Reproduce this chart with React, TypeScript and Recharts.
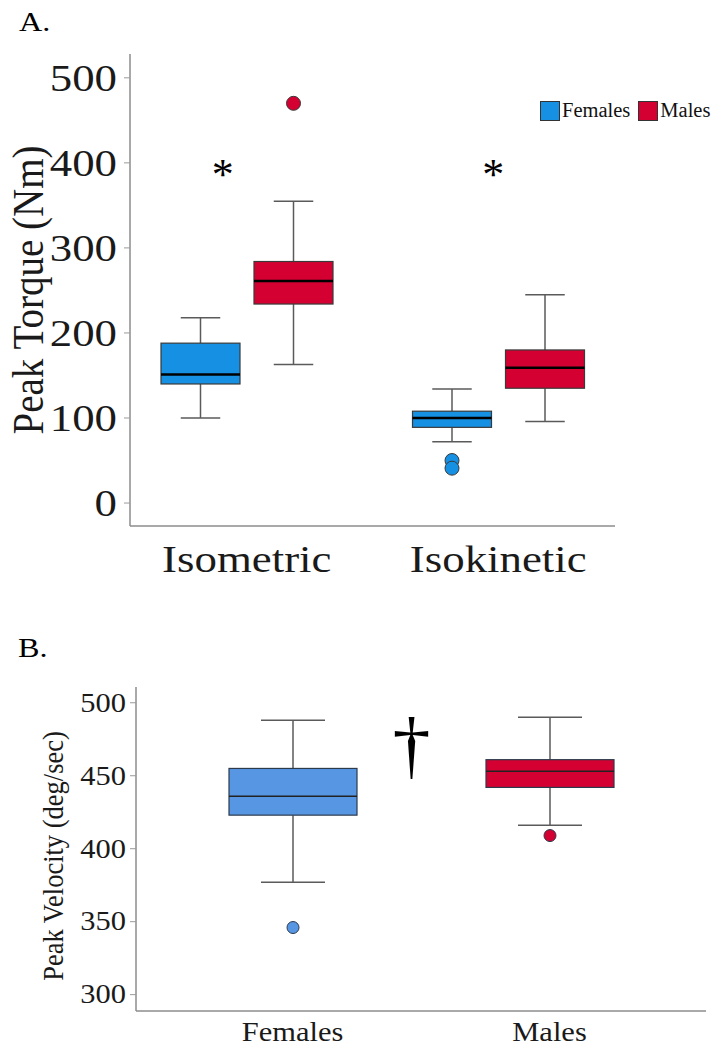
import React from "react";
import { ComposedChart, Bar, XAxis, YAxis, Legend, ReferenceDot } from "recharts";

const FONT = '"Liberation Serif", "Times New Roman", Times, serif';
const STRETCH = 1.15; // the source figure is a bit wide

// Panel A: peak torque (Nm)
const torqueCategories = ["Isometric", "Isokinetic"];
const torqueFemaleMin = [100, 72];
const torqueFemaleQ1 = [140, 89];
const torqueFemaleMedian = [151, 100];
const torqueFemaleQ3 = [188, 108];
const torqueFemaleMax = [218, 134];
const torqueFemaleOutliers = [[], [50, 41]];
const torqueMaleMin = [163, 96];
const torqueMaleQ1 = [234, 135];
const torqueMaleMedian = [261, 159];
const torqueMaleQ3 = [284, 180];
const torqueMaleMax = [355, 245];
const torqueMaleOutliers = [[470], []];
const torqueTicks = [0, 100, 200, 300, 400, 500];
const torqueSigCategories = ["Isometric", "Isokinetic"];
const torqueSigLevel = 394;

// Panel B: peak velocity (deg/sec)
const velocityCategories = ["Females", "Males"];
const velocityMin = [377, 416];
const velocityQ1 = [423, 442];
const velocityMedian = [436, 453];
const velocityQ3 = [455, 461];
const velocityMax = [488, 490];
const velocityOutliers = [[346], [409]];
const velocityTicks = [300, 350, 400, 450, 500];
const velocitySigLevel = 469;

const colors = {
  femaleA: "#1590e3",
  maleA: "#d50032",
  femaleB: "#5796e3",
  maleB: "#d50032",
};

type Stats = { min: number; q1: number; median: number; q3: number; max: number; outliers: number[] };

const stats = (min: number[], q1: number[], med: number[], q3: number[], max: number[], out: number[][], i: number): Stats => ({
  min: min[i],
  q1: q1[i],
  median: med[i],
  q3: q3[i],
  max: max[i],
  outliers: out[i],
});

const extent = (s: Stats) => [Math.min(s.min, ...s.outliers), Math.max(s.max, ...s.outliers)];

const torqueData = torqueCategories.map((category, i) => ({
  category,
  female: stats(torqueFemaleMin, torqueFemaleQ1, torqueFemaleMedian, torqueFemaleQ3, torqueFemaleMax, torqueFemaleOutliers, i),
  male: stats(torqueMaleMin, torqueMaleQ1, torqueMaleMedian, torqueMaleQ3, torqueMaleMax, torqueMaleOutliers, i),
}));

const velocityData = velocityCategories.map((category, i) => ({
  category,
  box: stats(velocityMin, velocityQ1, velocityMedian, velocityQ3, velocityMax, velocityOutliers, i),
}));

// whole box + whiskers + outliers, drawn inside the range bar [lowest, highest]
function BoxShape(props: any) {
  const { x, y, width, height, payload, statsKey, color, boxStroke, medianStroke, medianWidth, outlierR } = props;
  const s: Stats = payload[statsKey];
  const [lo, hi] = extent(s);
  const top = Math.min(y, y + height);
  const bottom = Math.max(y, y + height);
  const toY = (v: number) => (hi === lo ? bottom : bottom - ((v - lo) / (hi - lo)) * (bottom - top));
  const cx = x + width / 2;
  const cap = width / 4;
  const whisker = { stroke: "#5a5a5a", strokeWidth: 1.5 };
  return (
    <g>
      <line x1={cx} x2={cx} y1={toY(s.max)} y2={toY(s.q3)} {...whisker} />
      <line x1={cx} x2={cx} y1={toY(s.q1)} y2={toY(s.min)} {...whisker} />
      <line x1={cx - cap} x2={cx + cap} y1={toY(s.max)} y2={toY(s.max)} {...whisker} />
      <line x1={cx - cap} x2={cx + cap} y1={toY(s.min)} y2={toY(s.min)} {...whisker} />
      <rect x={x} y={toY(s.q3)} width={width} height={toY(s.q1) - toY(s.q3)} fill={color} stroke={boxStroke} strokeWidth={1.2} />
      <line x1={x} x2={x + width} y1={toY(s.median)} y2={toY(s.median)} stroke={medianStroke} strokeWidth={medianWidth} />
      {s.outliers.map((v, k) => (
        <circle key={k} cx={cx} cy={toY(v)} r={outlierR} fill={color} stroke={boxStroke} strokeWidth={1} />
      ))}
    </g>
  );
}

function YTick({ x, y, payload, fontSize }: any) {
  return (
    <text transform={`translate(${x},${y}) scale(${STRETCH},1)`} textAnchor="end" dominantBaseline="central" fontSize={fontSize} fontFamily={FONT} fill="#1a1a1a">
      {payload.value}
    </text>
  );
}

function XTick({ x, y, payload, fontSize, dy }: any) {
  return (
    <text transform={`translate(${x},${y + dy}) scale(${STRETCH},1)`} textAnchor="middle" fontSize={fontSize} fontFamily={FONT} fill="#1a1a1a">
      {payload.value}
    </text>
  );
}

// rotated axis title; ignores the x/y that recharts hands to labels
function AxisTitle({ text, left, mid, fontSize }: any) {
  return (
    <text transform={`translate(${left},${mid}) scale(${STRETCH},1) rotate(-90)`} x={0} y={0} textAnchor="middle" fontSize={fontSize} fontFamily={FONT} fill="#1a1a1a">
      {text}
    </text>
  );
}

function Symbol({ cx, cy, text, dx, dy, fontSize }: any) {
  return (
    <text x={cx + dx} y={cy + dy} textAnchor="middle" fontSize={fontSize} fontFamily={FONT} fill="#000">
      {text}
    </text>
  );
}

function LegendContent({ payload }: any) {
  return (
    <div style={{ display: "flex", alignItems: "center", fontFamily: FONT, fontSize: 20.5, color: "#111" }}>
      {(payload || []).map((p: any) => (
        <div key={p.value} style={{ display: "flex", alignItems: "center", marginRight: 8 }}>
          <span style={{ width: 18, height: 18, background: p.color, border: "1px solid #333", marginRight: 2 }} />
          <span>{p.value}</span>
        </div>
      ))}
    </div>
  );
}

const axisStroke = { stroke: "#8c8c8c", strokeWidth: 1.5 };

export default function App() {
  return (
    <div style={{ position: "absolute", left: 0, top: 0, width: 713, height: 1051, background: "#fff", overflow: "hidden" }}>
      <div style={{ position: "absolute", left: 19, top: 8, fontFamily: FONT, fontSize: 28, lineHeight: 1, transform: `scaleX(${STRETCH})`, transformOrigin: "left" }}>A.</div>
      <div style={{ position: "absolute", left: 18, top: 634, fontFamily: FONT, fontSize: 28, lineHeight: 1, transform: `scaleX(${STRETCH})`, transformOrigin: "left" }}>B.</div>

      <div style={{ position: "absolute", left: 0, top: 0 }}>
        <ComposedChart width={713} height={600} data={torqueData} margin={{ top: 54, right: 98, bottom: 14, left: 0 }} barGap={14}>
          <XAxis
            dataKey="category"
            padding={{ left: -9, right: -9 }}
            height={60}
            tickLine={false}
            tickSize={0}
            axisLine={axisStroke}
            tick={<XTick fontSize={39} dy={44} />}
          />
          <YAxis
            type="number"
            domain={[-27, 528]}
            ticks={torqueTicks}
            allowDataOverflow
            width={130}
            tickSize={6}
            tickMargin={7}
            axisLine={axisStroke}
            tickLine={{ stroke: "#9a9a9a" }}
            tick={<YTick fontSize={39} />}
            label={<AxisTitle text="Peak Torque (Nm)" left={43} mid={290} fontSize={39} />}
          />
          <Legend
            layout="horizontal"
            verticalAlign="middle"
            align="center"
            content={<LegendContent />}
            wrapperStyle={{ left: 540, top: 99, width: 180, height: 22 }}
          />
          <Bar
            name="Females"
            dataKey={(d: any) => extent(d.female)}
            fill={colors.femaleA}
            barSize={79}
            isAnimationActive={false}
            shape={(p: any) => (
              <BoxShape {...p} statsKey="female" color={colors.femaleA} boxStroke="#3a3a3a" medianStroke="#000" medianWidth={2.5} outlierR={7} />
            )}
          />
          <Bar
            name="Males"
            dataKey={(d: any) => extent(d.male)}
            fill={colors.maleA}
            barSize={79}
            isAnimationActive={false}
            shape={(p: any) => (
              <BoxShape {...p} statsKey="male" color={colors.maleA} boxStroke="#3a3a3a" medianStroke="#000" medianWidth={2.5} outlierR={7} />
            )}
          />
          <ReferenceDot
            x={torqueSigCategories[0]}
            y={torqueSigLevel}
            r={0}
            ifOverflow="visible"
            shape={(p: any) => <Symbol {...p} text="*" dx={-24} dy={21} fontSize={44} />}
          />
          <ReferenceDot
            x={torqueSigCategories[1]}
            y={torqueSigLevel}
            r={0}
            ifOverflow="visible"
            shape={(p: any) => <Symbol {...p} text="*" dx={-5} dy={21} fontSize={44} />}
          />
        </ComposedChart>
      </div>

      <div style={{ position: "absolute", left: 0, top: 600 }}>
        <ComposedChart width={713} height={451} data={velocityData} margin={{ top: 87, right: 7, bottom: 0, left: 0 }}>
          <XAxis
            dataKey="category"
            padding={{ left: 28, right: 28 }}
            height={40}
            tickLine={false}
            tickSize={0}
            axisLine={axisStroke}
            tick={<XTick fontSize={26.5} dy={28} />}
          />
          <YAxis
            type="number"
            domain={[288.8, 510.8]}
            ticks={velocityTicks}
            allowDataOverflow
            width={136}
            tickSize={6}
            tickMargin={4}
            axisLine={axisStroke}
            tickLine={{ stroke: "#9a9a9a" }}
            tick={<YTick fontSize={26.5} />}
            label={<AxisTitle text="Peak Velocity (deg/sec)" left={63} mid={256} fontSize={26.5} />}
          />
          <Bar
            dataKey={(d: any) => extent(d.box)}
            fill={colors.femaleB}
            barSize={128}
            isAnimationActive={false}
            shape={(p: any) => (
              <BoxShape
                {...p}
                statsKey="box"
                color={p.payload.category === "Males" ? colors.maleB : colors.femaleB}
                boxStroke="#2c3a4c"
                medianStroke="#222"
                medianWidth={1.5}
                outlierR={6}
              />
            )}
          />
          <ReferenceDot
            x={velocityCategories[0]}
            y={velocitySigLevel}
            r={0}
            ifOverflow="visible"
            shape={(p: any) => <Symbol {...p} text="†" dx={119} dy={22} fontSize={76} />}
          />
        </ComposedChart>
      </div>
    </div>
  );
}
